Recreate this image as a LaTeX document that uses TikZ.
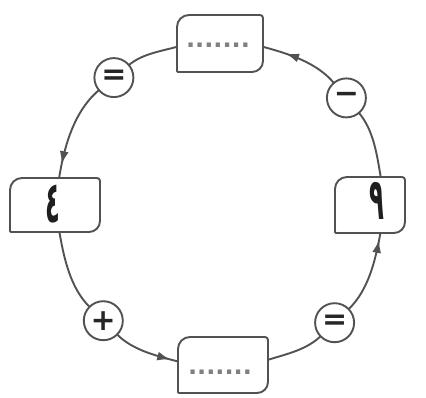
\documentclass[tikz,border=0pt]{standalone}
\usepackage{fontspec}
\usepackage{graphicx}
\usetikzlibrary{arrows.meta,decorations.markings}
\TeXXeTstate=1
\newfontfamily\arabicfont[Script=Arabic]{DejaVu Sans}
\newfontfamily\opfont{DejaVu Sans}
\newfontfamily\dotfont{DejaVu Sans}
\newcommand\dotrow{.......}
\newcommand\leafoutline[1]{%
  \draw[lin] ([yshift=-12pt]#1.north west) arc[start angle=180,end angle=90,radius=12pt]
    -- ([xshift=-3pt]#1.north east) arc[start angle=90,end angle=0,radius=3pt]
    -- ([yshift=11pt]#1.south east) arc[start angle=0,end angle=-90,radius=11pt]
    -- ([xshift=1pt]#1.south west) arc[start angle=270,end angle=180,radius=1pt]
    -- cycle;}
\begin{document}
\begin{tikzpicture}[x=1pt,y=1pt,
  lin/.style={draw=black!68, line width=1.9pt},
  opcircle/.style={circle, lin, fill=white, minimum size=39pt, inner sep=0pt, outer sep=0pt,
    font=\opfont\bfseries\fontsize{30}{30}\selectfont, text=black!85},
  boxnode/.style={rectangle, inner sep=0pt, outer sep=0pt},
  digit/.style={font=\arabicfont\bfseries\fontsize{58}{58}\selectfont, text=black!88, inner sep=0pt},
  dotstyle/.style={font=\dotfont\bfseries\fontsize{24}{24}\selectfont, text=black!50, inner sep=0pt},
  conn/.style={lin, looseness=0.86},
  arrowat/.style={postaction={decorate}, decoration={markings,
    mark=at position #1 with {\arrow{Latex[length=13pt,width=9pt]}}}},
]
\fill[white] (0,0) rectangle (426,397);
\useasboundingbox (0,0) rectangle (426,397);

% boxes
\node[boxnode, minimum width=86pt, minimum height=57pt] (T) at (220,353.5) {};
\node[boxnode, minimum width=90pt, minimum height=54pt] (L) at (55,192) {};
\node[boxnode, minimum width=70pt, minimum height=56pt] (R) at (370,192) {};
\node[boxnode, minimum width=90pt, minimum height=56pt] (B) at (223,32) {};
\leafoutline{T}
\leafoutline{L}
\leafoutline{R}
\leafoutline{B}

% box texts
\node[digit] (Lt) at (53,193) {\scalebox{0.42}[1]{\beginR ٤\endR}};
\node[digit] (Rt) at (377,196) {\scalebox{0.42}[1]{\beginR ٩\endR}};
\node[dotstyle] (Tt) at (218,352) {\dotrow};
\node[dotstyle] (Bt) at (220,25) {\dotrow};

% operator circles
\node[opcircle] (S1) at (113.9,319.4) {=};
\node[opcircle] (S2) at (346.4,299.1) {−};
\node[opcircle] (S3) at (103.3,76.3) {+};
\node[opcircle] (S4) at (334.6,74.3) {=};

% connectors
\draw[conn] ([yshift=-3.3pt]T.west) to[out=195.3,in=40] (S1);
\draw[conn, arrowat=-14pt] (S1) to[out=220,in=80.8] ([xshift=4.1pt]L.north);
\draw[conn] ([xshift=4.4pt]L.south) to[out=279.9,in=135] (S3);
\draw[conn, arrowat=-8pt] (S3) to[out=315,in=165.1] ([yshift=3.5pt]B.west);
\draw[conn] ([yshift=5.2pt]B.east) to[out=17.1,in=224] (S4);
\draw[conn, arrowat=-7pt] (S4) to[out=44,in=259.75] ([xshift=10.4pt]R.south);
\draw[conn] ([xshift=10.7pt]R.north) to[out=99.5,in=310] (S2);
\draw[conn, arrowat=-24pt] (S2) to[out=130,in=-15.3] ([yshift=-3.3pt]T.east);
\end{tikzpicture}
\end{document}
